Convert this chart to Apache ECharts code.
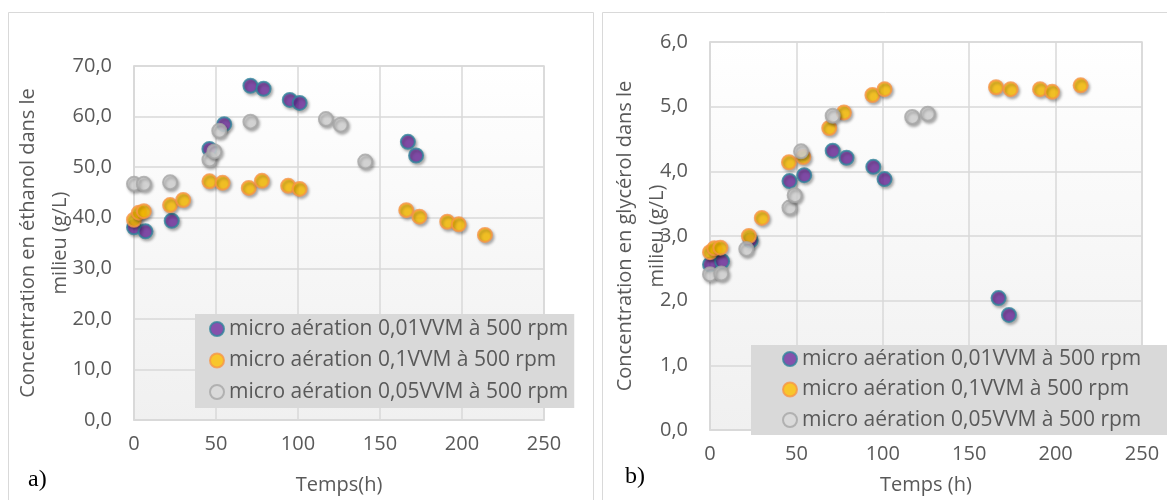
<!DOCTYPE html>
<html>
<head>
<meta charset="utf-8">
<script src="https://cdn.jsdelivr.net/npm/echarts@6/dist/echarts.min.js"></script>
<style>
html,body{margin:0;padding:0;background:#fff;}
#c{width:1167px;height:500px;}
</style>
</head>
<body>
<div id="c"></div>
<script>
// ---- data ----
const seriesNames = ['micro aération 0,01VVM à 500 rpm', 'micro aération 0,1VVM à 500 rpm', 'micro aération 0,05VVM à 500 rpm'];
const xTicks = [0, 50, 100, 150, 200, 250];

// a) ethanol (g/L) vs time (h)
const ethanol001 = [[0,38.1],[7,37.3],[23,39.4],[46,53.6],[55,58.5],[71,66.1],[79,65.5],[95,63.3],[101,62.7],[167,55.0],[172,52.3]];
const ethanol01  = [[0,39.6],[3,41.0],[6,41.3],[22,42.5],[30,43.5],[46,47.2],[54,46.9],[70,45.9],[78,47.3],[94,46.3],[101,45.7],[166,41.5],[174,40.2],[191,39.2],[198,38.7],[214,36.6]];
const ethanol005 = [[0,46.7],[6,46.7],[22,47.0],[46,51.5],[49,53.1],[52,57.2],[71,59.0],[117,59.5],[126,58.4],[141,51.1]];

// b) glycerol (g/L) vs time (h)
const glycerol001 = [[0,2.56],[7,2.61],[23.5,2.93],[46,3.85],[54.5,3.94],[71,4.32],[79,4.21],[94.5,4.07],[101,3.88],[167,2.04],[173,1.78]];
const glycerol01  = [[0,2.75],[2.5,2.81],[6,2.82],[22.5,3.0],[30,3.28],[45.7,4.14],[54,4.22],[69,4.67],[77.5,4.91],[94,5.18],[101,5.27],[165.5,5.30],[174,5.27],[191,5.27],[198,5.23],[214.5,5.33]];
const glycerol005 = [[0,2.41],[6.5,2.42],[21,2.80],[46,3.44],[49,3.63],[52.7,4.31],[71,4.86],[117,4.84],[126,4.89]];

// ---- styles ----
const FONT = 'Open Sans';
const TXT = '#595959';
const GRIDC = '#D9D9D9';
const markerStyles = [
  {color:'#7030A0', borderColor:'#31859C'},
  {color:'#FFC000', borderColor:'#F79646'},
  {color:'#D9D9D9', borderColor:'#A6A6A6'}
];
const plotBg = {type:'linear', x:0, y:0, x2:0, y2:1, colorStops:[{offset:0,color:'#FFFFFF'},{offset:1,color:'#F0F0F0'}]};

function commaFmt(v){ return v.toFixed(1).replace('.', ','); }

function xAxisDef(gridIndex, name, gap){
  return {
    type:'value', gridIndex, min:0, max:250, interval:50,
    name, nameLocation:'middle', nameGap:gap, nameMoveOverlap:false,
    nameTextStyle:{fontFamily:FONT, fontSize:20, color:TXT},
    axisLine:{show:true, lineStyle:{color:GRIDC, width:1.5}},
    axisTick:{show:false},
    axisLabel:{fontFamily:FONT, fontSize:20, color:TXT, margin:14},
    splitLine:{show:true, lineStyle:{color:GRIDC, width:1.5}}
  };
}
function yAxisDef(gridIndex, max, interval, name, gap){
  return {
    type:'value', gridIndex, min:0, max, interval,
    name, nameLocation:'middle', nameGap:gap, nameMoveOverlap:false,
    nameTextStyle:{fontFamily:FONT, fontSize:20, color:TXT, lineHeight:32},
    axisLine:{show:true, lineStyle:{color:GRIDC, width:1.5}},
    axisTick:{show:false},
    axisLabel:{fontFamily:FONT, fontSize:20, color:TXT, margin:22, formatter:commaFmt},
    splitLine:{show:true, lineStyle:{color:GRIDC, width:1.5}}
  };
}
function scatter(i, idx, data){
  return {
    type:'scatter', name:seriesNames[i], xAxisIndex:idx, yAxisIndex:idx,
    data, symbol:'circle', symbolSize:14,
    itemStyle:Object.assign({borderWidth:2, shadowBlur:3, shadowColor:'rgba(0,0,0,0.35)', shadowOffsetX:1.5, shadowOffsetY:2}, markerStyles[i]),
    emphasis:{disabled:true},
    z: 2 + i
  };
}
function legendDef(left, top, padding, gap){
  return {
    orient:'vertical', left, top, padding, itemGap:gap,
    backgroundColor:'#D9D9D9', borderRadius:0,
    icon:'circle', itemWidth:14, itemHeight:14,
    textStyle:{fontFamily:FONT, fontSize:21, color:TXT, lineHeight:22},
    itemStyle:{borderWidth:2, shadowBlur:0, shadowColor:'transparent', shadowOffsetX:0, shadowOffsetY:0},
    selectedMode:false,
    data:seriesNames
  };
}

const chart = echarts.init(document.getElementById('c'), null, {renderer:'canvas'});
chart.setOption({
  animation:false,
  backgroundColor:'#ffffff',
  grid:[
    {left:134, top:66, width:410, height:357, show:true, backgroundColor:plotBg, borderColor:GRIDC, borderWidth:1.5, containLabel:false},
    {left:710, top:42, width:432, height:390, show:true, backgroundColor:plotBg, borderColor:GRIDC, borderWidth:1.5, containLabel:false}
  ],
  xAxis:[ xAxisDef(0, 'Temps(h)', 55), xAxisDef(1, 'Temps (h)', 45) ],
  yAxis:[
    yAxisDef(0, 70, 10, 'Concentration en éthanol dans le\nmilieu (g/L)', 58),
    yAxisDef(1, 6, 1, 'Concentration en glycérol dans le\nmilieu (g/L)', 37)
  ],
  legend:[ legendDef(195, 314, [4,6,5,14], 9.5), legendDef(751, 345, [3,40,4,31], 8.5) ],
  series:[
    scatter(0, 0, ethanol001), scatter(1, 0, ethanol01), scatter(2, 0, ethanol005),
    scatter(0, 1, glycerol001), scatter(1, 1, glycerol01), scatter(2, 1, glycerol005)
  ],
  graphic:[
    {type:'rect', shape:{x:8.5, y:12.5, width:585, height:520}, style:{fill:'none', stroke:'#D9D9D9', lineWidth:1}, z:-10, silent:true},
    {type:'rect', shape:{x:602.5, y:12.5, width:600, height:520}, style:{fill:'none', stroke:'#D9D9D9', lineWidth:1}, z:-10, silent:true},
    {type:'text', left:28, top:468, style:{text:'a)', font:'24px "Liberation Serif"', fill:'#000'}, silent:true},
    {type:'text', left:625, top:465, style:{text:'b)', font:'24px "Liberation Serif"', fill:'#000'}, silent:true}
  ]
});
</script>
</body>
</html>
